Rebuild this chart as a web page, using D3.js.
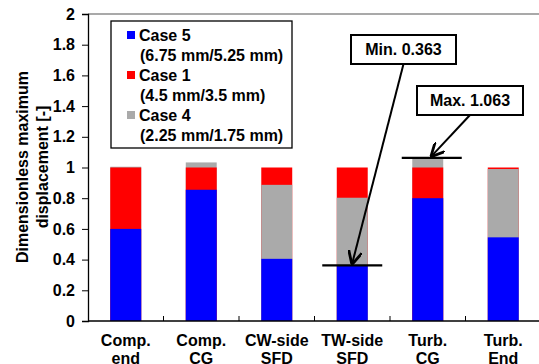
<!DOCTYPE html>
<html>
<head>
<meta charset="UTF-8">
<script src="https://d3js.org/d3.v7.min.js"></script>
<style>
  body { margin: 0; background: #fff; }
  text { font-family: "Liberation Sans", Arial, sans-serif; font-weight: bold; font-size: 16px; fill: #000; }
</style>
</head>
<body>
<svg width="539" height="364"></svg>
<script>
// data
var categories = [["Comp.", "end"], ["Comp.", "CG"], ["CW-side", "SFD"], ["TW-side", "SFD"], ["Turb.", "CG"], ["Turb.", "End"]];
var seriesNames = ["Case 5", "Case 1", "Case 4"];
var seriesNotes = ["(6.75 mm/5.25 mm)", "(4.5 mm/3.5 mm)", "(2.25 mm/1.75 mm)"];
var case5 = [0.60, 0.855, 0.405, 0.363, 0.80, 0.545];
var case1 = [1.0, 1.0, 1.0, 1.0, 1.0, 1.0];
var case4 = [1.005, 1.033, 0.887, 0.803, 1.063, 0.99];
var yTicks = [0, 0.2, 0.4, 0.6, 0.8, 1, 1.2, 1.4, 1.6, 1.8, 2];
var colors = ["#0000ff", "#ff0000", "#aaaaaa"];

var svg = d3.select("svg");
var mLeft = 88, mTop = 14, width = 453, height = 307;

var keys = categories.map(function(c) { return c.join(" "); });
var x = d3.scaleBand().domain(keys).range([0, width]).paddingInner(0.59).paddingOuter(0.295);
var y = d3.scaleLinear().domain([0, 2]).range([height, 0]);

var g = svg.append("g").attr("transform", "translate(" + mLeft + "," + mTop + ")");

// plot frame (top line)
g.append("line").attr("x1", 0).attr("x2", width).attr("y1", 0).attr("y2", 0)
  .attr("stroke", "#555").attr("stroke-width", 1.2);

// bars: overlapping, larger drawn first
var series = [case5, case1, case4];
var rows = [];
keys.forEach(function(k, i) {
  var items = series.map(function(s, j) { return { key: k, v: s[i], c: colors[j] }; });
  items.sort(function(a, b) { return b.v - a.v; });
  rows = rows.concat(items);
});
g.selectAll(".bar").data(rows).enter().append("rect")
  .attr("class", "bar")
  .attr("x", function(d) { return x(d.key); })
  .attr("width", x.bandwidth())
  .attr("y", function(d) { return y(d.v); })
  .attr("height", function(d) { return height - y(d.v); })
  .attr("fill", function(d) { return d.c; });

// y axis
var yAxis = g.append("g")
  .call(d3.axisLeft(y).tickValues(yTicks).tickSize(6).tickPadding(7)
    .tickFormat(function(d) { return String(+d.toFixed(1)); }));
yAxis.select(".domain").attr("stroke", "#000").attr("stroke-width", 1.3);
yAxis.selectAll(".tick line").attr("stroke", "#000");
yAxis.selectAll("text").style("font-size", "16px").attr("fill", "#000");

// x axis
var step = x.step();
var xAxis = g.append("g").attr("transform", "translate(0," + height + ")");
xAxis.append("line").attr("x1", 0).attr("x2", width).attr("stroke", "#000").attr("stroke-width", 1.3);
xAxis.selectAll(".xt").data(d3.range(1, keys.length)).enter().append("line")
  .attr("x1", function(i) { return i * step; }).attr("x2", function(i) { return i * step; })
  .attr("y1", 0).attr("y2", -5).attr("stroke", "#000");
var xl = xAxis.selectAll(".xl").data(categories).enter().append("text")
  .attr("text-anchor", "middle")
  .attr("transform", function(d, i) { return "translate(" + (x(keys[i]) + x.bandwidth() / 2) + ",25)"; });
xl.append("tspan").attr("x", 0).attr("y", 0).text(function(d) { return d[0]; });
xl.append("tspan").attr("x", 0).attr("y", 18).text(function(d) { return d[1]; });

// y label
var yl = svg.append("text").attr("text-anchor", "middle")
  .attr("transform", "translate(28,167) rotate(-90)");
yl.append("tspan").attr("x", 0).attr("y", 0).text("Dimensionless maximum");
yl.append("tspan").attr("x", 0).attr("y", 20).text("displacement [-]");

// legend
var lg = svg.append("g").attr("transform", "translate(111,21)");
lg.append("rect").attr("width", 181).attr("height", 127).attr("fill", "#fff")
  .attr("stroke", "#000").attr("stroke-width", 1.3);
seriesNames.forEach(function(n, i) {
  var yy = 20 + i * 40;
  lg.append("rect").attr("x", 16).attr("y", yy - 10).attr("width", 8).attr("height", 8).attr("fill", colors[i]);
  lg.append("text").attr("x", 28).attr("y", yy).text(n);
  lg.append("text").attr("x", 29).attr("y", yy + 20).text(seriesNotes[i]);
});

// annotations
svg.append("defs").append("marker").attr("id", "arr")
  .attr("viewBox", "0 0 10 10").attr("refX", 9).attr("refY", 5)
  .attr("markerWidth", 7).attr("markerHeight", 7).attr("orient", "auto")
  .append("path").attr("d", "M0,0 L10,5 L0,10").attr("fill", "none").attr("stroke", "#000").attr("stroke-width", 2);

function note(label, idx, val, bx, by, bw, dx) {
  var cx = mLeft + x(keys[idx]) + x.bandwidth() / 2 + dx;
  var cy = mTop + y(val);
  svg.append("line").attr("x1", cx - 30).attr("x2", cx + 30).attr("y1", cy).attr("y2", cy)
    .attr("stroke", "#000").attr("stroke-width", 2.2);
  svg.append("line").attr("x1", bx + bw / 2).attr("y1", by + 29).attr("x2", cx).attr("y2", cy - 2)
    .attr("stroke", "#000").attr("stroke-width", 2).attr("marker-end", "url(#arr)");
  svg.append("rect").attr("x", bx).attr("y", by).attr("width", bw).attr("height", 29)
    .attr("fill", "#fff").attr("stroke", "#000").attr("stroke-width", 2);
  svg.append("text").attr("x", bx + bw / 2).attr("y", by + 20).attr("text-anchor", "middle").text(label);
}
note("Min. 0.363", 3, case5[3], 351, 35, 105, 0);
note("Max. 1.063", 4, case4[4], 417, 86, 106, 4);
</script>
</body>
</html>
